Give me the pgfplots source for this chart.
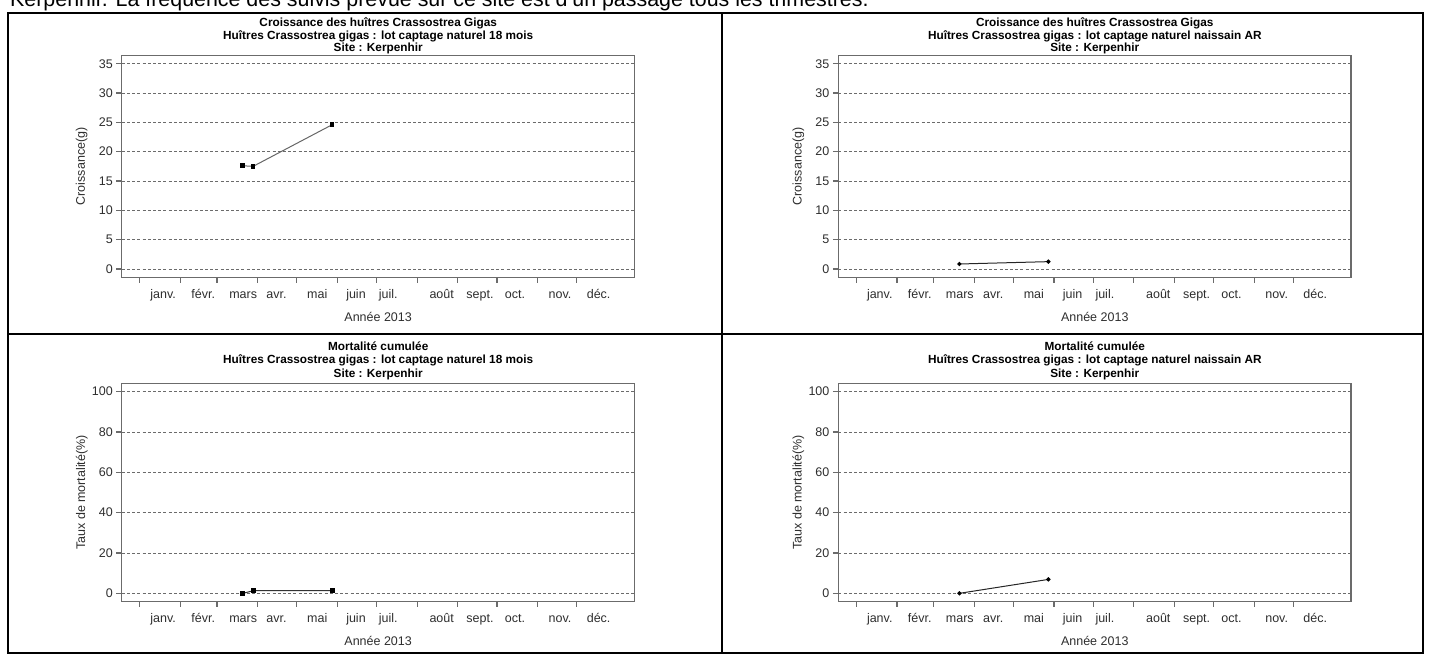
\documentclass[border=0pt]{standalone}
\usepackage{fontspec}
\setmainfont{Liberation Sans}
\usepackage{pgfplots}
\pgfplotsset{compat=1.18}
\definecolor{framegray}{gray}{0.42}
\definecolor{gridgray}{gray}{0.42}
\definecolor{txtgray}{gray}{0.18}
\pgfplotsset{
  panel/.style={
    scale only axis, width=512.7pt,
    xmin=-13.8, xmax=378.1,
    axis line style={framegray, line width=1.3pt},
    tick align=outside, tick pos=left,
    major tick length=5.5pt,
    every tick/.style={framegray, line width=1.1pt},
    xtick={0,31,59,90,120,151,181,212,243,273,304,334},
    xticklabels={},
    extra x ticks={17.8,48.4,79,104.5,135.6,165.2,189.9,230.7,260,286.7,321.2,350.7},
    extra x tick labels={janv.,févr.,mars,avr.,mai,juin,juil.,août,sept.,oct.,nov.,déc.},
    extra x tick style={major tick length=0pt, xticklabel style={anchor=base, yshift=-21.5pt}},
    ymajorgrids,
    major grid style={gridgray, line width=0.9pt, dash pattern=on 3pt off 2.2pt},
    tick label style={font=\fontsize{12.5}{15}\selectfont, text=txtgray},
    /pgf/number format/assume math mode=true,
    xlabel={Année 2013},
    every axis x label/.style={at={(axis description cs:0.5,0)}, anchor=center, yshift=-39.7pt,
      font=\fontsize{12.5}{15}\selectfont, text=txtgray},
    every axis y label/.style={at={(axis description cs:-0.0782,0.5)}, anchor=center, rotate=90,
      font=\fontsize{12.5}{15}\selectfont, text=txtgray},
  },
  croiss/.style={panel, height=221.7pt, ymin=-1.4, ymax=36.4, ytick={0,5,...,35}, ylabel={Croissance(g)}},
  mort/.style={panel, height=217.8pt, ymin=-4, ymax=104, ytick={0,20,...,100}, ylabel={Taux de mortalité(\%)}},
}
\begin{document}
\begin{tikzpicture}[x=1pt,y=1pt]
\path[use as bounding box] (0,0) rectangle (1432,655);
\clip (0,0) rectangle (1432,655);

% caption line (cut at the top)
\node[anchor=base west, font=\fontsize{21.4}{24}\selectfont, inner sep=0pt] at (10,648)
  {Kerpenhir. La fréquence des suivis prévue sur ce site est d'un passage tous les trimestres.};

% top-left
\begin{axis}[croiss, at={(121.8pt,377.8pt)}, anchor=south west]
\addplot[black!60, line width=1pt, mark=square*, mark size=1.8pt, mark options={black, solid}]
  coordinates {(78.5,17.6) (86.6,17.5) (147,24.6)};
\end{axis}
% top-right
\begin{axis}[croiss, at={(838.4pt,377.8pt)}, anchor=south west]
\addplot[black!85, line width=1pt, mark=*, mark size=1.6pt, mark options={black, solid}]
  coordinates {(78.7,0.85) (146.7,1.25)};
\end{axis}
% bottom-left
\begin{axis}[mort, at={(121.8pt,53.6pt)}, anchor=south west]
\addplot[black!80, line width=1pt, mark=square*, mark size=2pt, mark options={black, solid}]
  coordinates {(78.8,0) (86.8,1.3) (147,1.3)};
\end{axis}
% bottom-right
\begin{axis}[mort, at={(838.4pt,53.6pt)}, anchor=south west]
\addplot[black!85, line width=1pt, mark=*, mark size=1.6pt, mark options={black, solid}]
  coordinates {(78.7,0) (146.7,6.9)};
\end{axis}

% titles
\begin{scope}[every node/.style={font=\fontsize{11.8}{14}\selectfont\bfseries, inner sep=0pt, anchor=center}]
\node at (378.2,631.7) {Croissance des huîtres Crassostrea Gigas};
\node at (378.2,618.3) {Huîtres Crassostrea gigas : lot captage naturel 18 mois};
\node at (378.2,606.2) {Site : Kerpenhir};
\node at (1094.8,631.7) {Croissance des huîtres Crassostrea Gigas};
\node at (1094.8,618.3) {Huîtres Crassostrea gigas : lot captage naturel naissain AR};
\node at (1094.8,606.2) {Site : Kerpenhir};
\node at (378.2,308.3) {Mortalité cumulée};
\node at (378.2,294.3) {Huîtres Crassostrea gigas : lot captage naturel 18 mois};
\node at (378.2,281.0) {Site : Kerpenhir};
\node at (1094.8,308.3) {Mortalité cumulée};
\node at (1094.8,294.3) {Huîtres Crassostrea gigas : lot captage naturel naissain AR};
\node at (1094.8,281.0) {Site : Kerpenhir};
\end{scope}

% table borders
\draw[black, line width=2pt] (8,642.3) rectangle (1423,2);
\draw[black, line width=2pt] (722,642.3) -- (722,2);
\draw[black, line width=2pt] (8,320.7) -- (1423,320.7);
\end{tikzpicture}
\end{document}
